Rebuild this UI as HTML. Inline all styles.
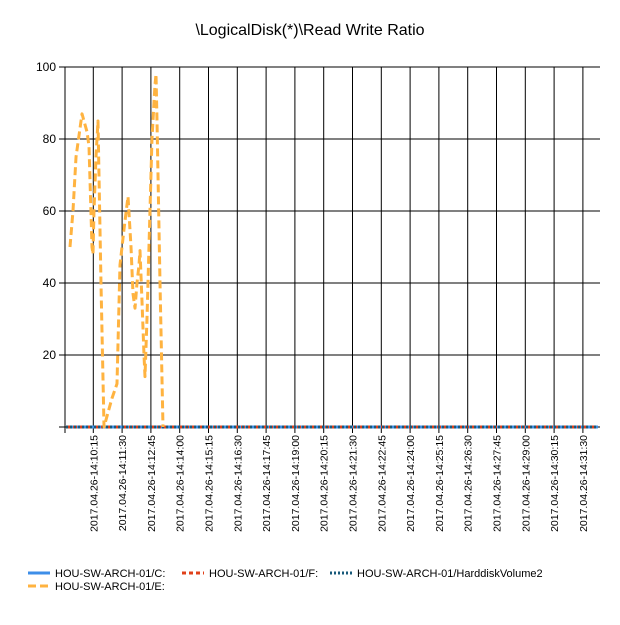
<!DOCTYPE html>
<html><head><meta charset="utf-8"><style>
body{margin:0;background:#fff;font-family:"Liberation Sans",sans-serif}
#wrap{position:relative;width:620px;height:620px}
</style></head><body>
<div id="wrap">
<svg id="svg" width="620" height="620" xmlns="http://www.w3.org/2000/svg">
<text x="310" y="35" text-anchor="middle" font-size="16" font-family="Liberation Sans, sans-serif">\LogicalDisk(*)\Read Write Ratio</text>
</svg>
</div>
<script>
const xLabels=["2017.04.26-14:10:15","2017.04.26-14:11:30","2017.04.26-14:12:45","2017.04.26-14:14:00","2017.04.26-14:15:15","2017.04.26-14:16:30","2017.04.26-14:17:45","2017.04.26-14:19:00","2017.04.26-14:20:15","2017.04.26-14:21:30","2017.04.26-14:22:45","2017.04.26-14:24:00","2017.04.26-14:25:15","2017.04.26-14:26:30","2017.04.26-14:27:45","2017.04.26-14:29:00","2017.04.26-14:30:15","2017.04.26-14:31:30"];
const yTicks=[0,20,40,60,80,100];
const yTickLabels=["","20","40","60","80","100"];
// minutes since 14:10:15
const eTimes=[-60.7,-52.9,-45,-29.4,-16.4,-11.2,-3.4,-0.8,1.8,7,12.2,14.8,20,27.9,33.1,48.7,61.7,69.5,80,90.4,98.2,103.4,108.6,113.8,119,121.6,126.8,132,134.6,139.8,147.6,152.8,160.6,163.3,165.9,173.7,181.5];
const eValues=[50,60,75,87,82,78,50,48,60,75,85,70,40,0,2,8,12,45,55,64,50,37,33,40,45,49,35,20,14,30,60,80,95,98,85,40,0];
const zeroTimes=[-71,1314];
const cValues=[0,0];
const fValues=[0,0];
const hValues=[0,0];

const NS="http://www.w3.org/2000/svg";
const svg=document.getElementById('svg');
const L=65,R=600,T=67,B=427,X0=93.3,PPM=28.8/75;
const xs=m=>X0+m*PPM, ys=v=>B-(v/100)*(B-T);
function mk(tag,attrs){const e=document.createElementNS(NS,tag);for(const k in attrs)e.setAttribute(k,attrs[k]);svg.appendChild(e);return e;}

yTicks.forEach((v,i)=>{
  const g=mk('line',{x1:59,x2:R,y1:ys(v),y2:ys(v),stroke:'#000','stroke-width':1});
  
  
  const t=mk('text',{x:56,y:ys(v)+4,'text-anchor':'end','font-size':12});
  t.textContent=yTickLabels[i];
  
  
});
xLabels.forEach((lab,i)=>{
  const x=xs(i*75);
  const g=mk('line',{x1:x,x2:x,y1:T,y2:B+6,stroke:'#000','stroke-width':1});
  
  
  const t=mk('text',{x:0,y:0,'text-anchor':'end','font-size':10.5,transform:`translate(${x+4},${B+8}) rotate(-90)`});
  t.textContent=lab;
  
  
});
const ax=mk('line',{x1:L,x2:L,y1:T,y2:B+6,stroke:'#000','stroke-width':1});



function series(times,vals,color,w,dash,name){
  const p=mk('polyline',{points:times.map((t,i)=>xs(t)+','+ys(vals[i])).join(' '),fill:'none',stroke:color,'stroke-width':w,'stroke-dasharray':dash,'stroke-linejoin':'round'});
  
  
}
series(zeroTimes,cValues,'#3d8ee8',3,'','series-c');
series(zeroTimes,fValues,'#e0401a',3,'4 3','series-f');
series(zeroTimes,hValues,'#17597a',3,'2 2','series-harddiskvolume2');
series(eTimes,eValues,'#ffb340',3,'8 4','series-e');

const legend=[['HOU-SW-ARCH-01/C:','#3d8ee8','',28,573],['HOU-SW-ARCH-01/F:','#e0401a','4 3',182,573],['HOU-SW-ARCH-01/HarddiskVolume2','#17597a','2 2',330,573],['HOU-SW-ARCH-01/E:','#ffb340','8 4',28,586]];
legend.forEach(([n,c,d,x,y])=>{
  const l=mk('line',{x1:x,x2:x+22,y1:y,y2:y,stroke:c,'stroke-width':3,'stroke-dasharray':d});
  
  
  const t=mk('text',{x:x+27,y:y+4,'font-size':11});
  t.textContent=n;
  
  
});
</script>
</body></html>
